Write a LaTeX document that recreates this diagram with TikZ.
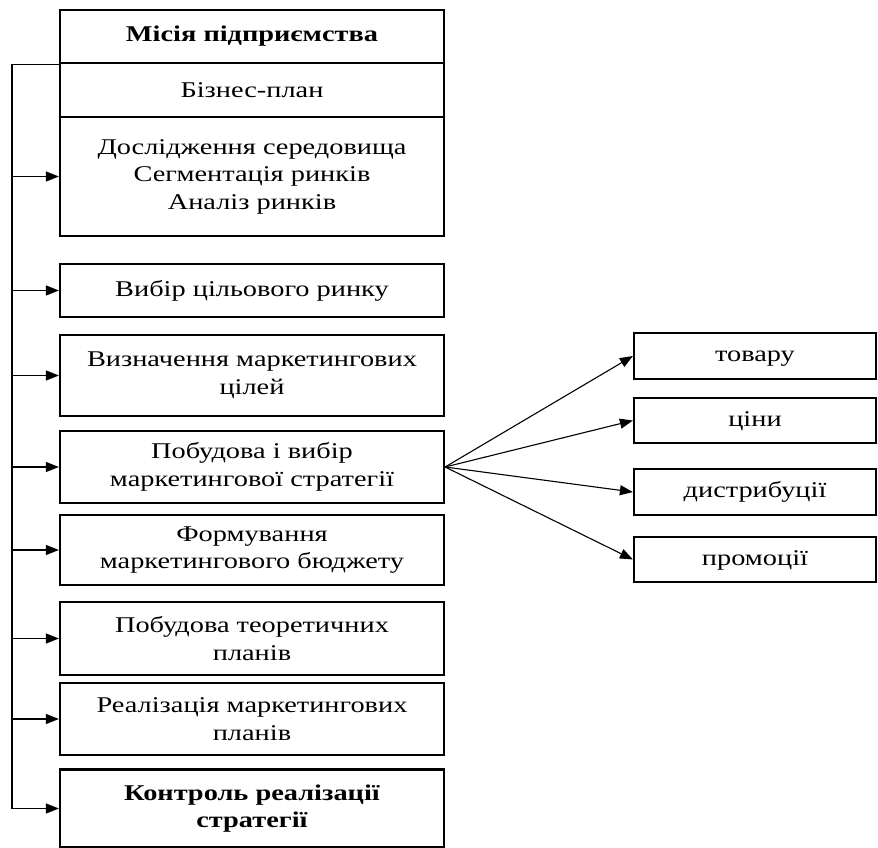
\documentclass[tikz,border=0pt]{standalone}
\usepackage{fontspec}
\setmainfont{Liberation Serif}[FakeStretch=1.26]
\usepackage{tikz}
\usetikzlibrary{positioning, arrows.meta}

\tikzset{
  stage/.style={draw, line width=2.2pt, minimum width=384pt, align=center,
    inner sep=0pt, font=\fontsize{22.5}{27.5}\selectfont},
  kind/.style={draw, line width=2.2pt, minimum width=242pt, align=center,
    inner sep=0pt, font=\fontsize{22.5}{27.5}\selectfont,
    execute at begin node=\strut},
  arr/.style={line width=1.1pt, -{Triangle[length=13pt, width=10pt]}}
}

\begin{document}
\begin{tikzpicture}[x=1pt, y=-1pt]

  \useasboundingbox (0,0) rectangle (878,848);

  % Define column positions
  \def\leftx{252}
  \def\rightx{755}

  % Left column of stages
  \node[stage, minimum height=53pt] (missia) at (\leftx,36.5) {\textbf{Місія підприємства}};
  \node[stage, minimum height=54pt] (biznes) at (\leftx,90) {Бізнес-план};
  \node[stage, minimum height=119pt] (doslid) at (\leftx,176.5) {Дослідження середовища\\Сегментація ринків\\Аналіз ринків};
  \node[stage, minimum height=53pt] (vybir) at (\leftx,290.5) {Вибір цільового ринку};
  \node[stage, minimum height=81pt] (cili) at (\leftx,375.5) {Визначення маркетингових\\цілей};
  \node[stage, minimum height=72pt] (strat) at (\leftx,467) {Побудова і вибір\\маркетингової стратегії};
  \node[stage, minimum height=70pt] (budzh) at (\leftx,550) {Формування\\маркетингового бюджету};
  \node[stage, minimum height=73pt] (teor) at (\leftx,638.5) {Побудова теоретичних\\планів};
  \node[stage, minimum height=72pt] (real) at (\leftx,719) {Реалізація маркетингових\\планів};
  \node[stage, minimum height=78pt] (kontr) at (\leftx,808.5) {\textbf{Контроль реалізації}\\\textbf{стратегії}};

  % Right column of strategy kinds
  \node[kind, minimum height=46pt] (tovar) at (\rightx,356) {товару};
  \node[kind, minimum height=45pt] (tsina) at (\rightx,420.5) {ціни};
  \node[kind, minimum height=46pt] (dystr) at (\rightx,492) {дистрибуції};
  \node[kind, minimum height=45pt] (promo) at (\rightx,559.5) {промоції};

  % Feedback line on the left
  \coordinate (spine) at (12,0);
  \draw[line width=1.1pt] (missia.south west) -- (spine |- missia.south west) -- (spine |- kontr.west);

  % Arrows from the line to the stages
  \foreach \n in {doslid, vybir, cili, strat, budzh, teor, real, kontr}
    \draw[arr] (spine |- \n.west) -- (\n.west);

  % Arrows to the strategy kinds
  \foreach \n in {tovar, tsina, dystr, promo}
    \draw[arr] (strat.east) -- (\n.west);

\end{tikzpicture}
\end{document}
